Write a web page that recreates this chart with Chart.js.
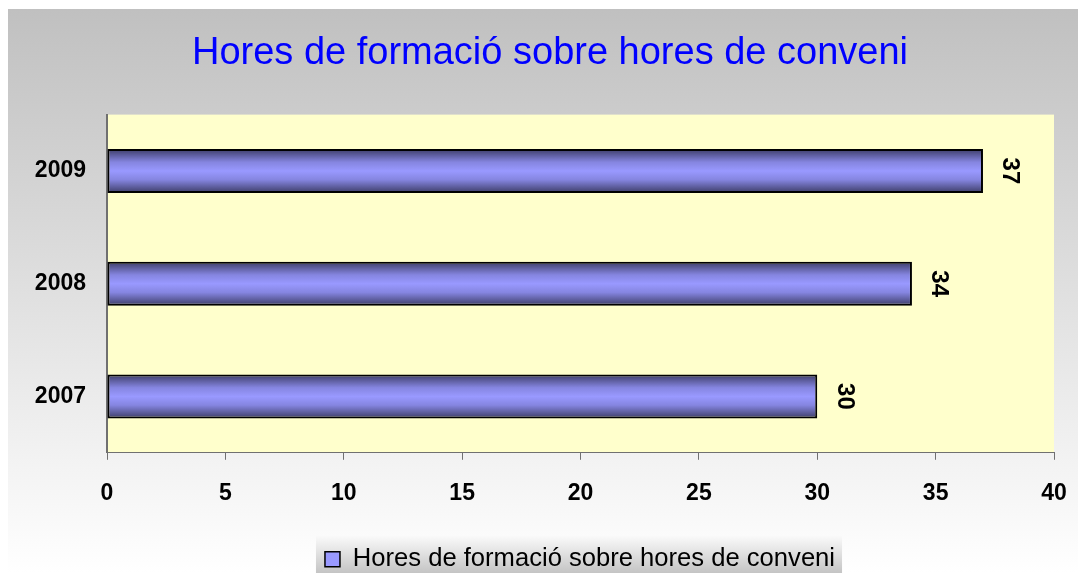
<!DOCTYPE html>
<html>
<head>
<meta charset="utf-8">
<script src="https://cdn.jsdelivr.net/npm/chart.js@4"></script>
<style>
  html, body { margin: 0; padding: 0; background: #fff; }
  #wrap { position: absolute; left: 8px; top: 9px; width: 1070px; height: 564px; }
</style>
</head>
<body>
<div id="wrap"><canvas id="mycanvas" width="1070" height="564"></canvas></div>
<script>
var years = ["2009", "2008", "2007"];
var hores = [37, 34, 30];
var serieName = "Hores de formació sobre hores de conveni";
var titleText = "Hores de formació sobre hores de conveni";

var fontFam = "'Liberation Sans', Arial, sans-serif";

// vertical gradient across the bar thickness (dark edges, light middle)
function barFill(c) {
    var chart = c.chart;
    var ys = chart.scales.y;
    if (!chart.chartArea || !ys) return '#9999ff';
    var yc = ys.getPixelForValue(c.dataIndex);
    var h = (ys.height / years.length) * 0.39;
    var g = chart.ctx.createLinearGradient(0, yc - h / 2, 0, yc + h / 2);
    g.addColorStop(0, '#3c3c66');
    g.addColorStop(0.3, '#8585e0');
    g.addColorStop(0.5, '#9999ff');
    g.addColorStop(0.7, '#8585e0');
    g.addColorStop(1, '#3c3c66');
    return g;
}

var decor = {
    id: 'decor',
    afterLayout: function(chart) {
        // Excel puts title and legend a bit right of centre
        chart.titleBlock.left += 19;
        chart.titleBlock.right += 19;
        chart.legend.left += 49;
        chart.legend.right += 49;
        chart.legend.top += 9;
        chart.legend.bottom += 9;
    },
    beforeDraw: function(chart) {
        var ctx = chart.ctx;
        var g = ctx.createLinearGradient(0, 0, 0, chart.height);
        g.addColorStop(0, '#c0c0c0');
        g.addColorStop(1, '#ffffff');
        ctx.save();
        ctx.fillStyle = g;
        ctx.fillRect(0, 0, chart.width, chart.height);
        var a = chart.chartArea;
        ctx.fillStyle = '#ffffcc';
        ctx.fillRect(a.left, a.top, a.right - a.left, a.bottom - a.top);

        // legend box
        var hb = chart.legend.legendHitBoxes[0];
        if (hb) {
            var lx = hb.left - 9, lw = hb.width + 16;
            var ly = 527, lh = chart.height - ly;
            var lg = ctx.createLinearGradient(0, ly, 0, ly + lh);
            lg.addColorStop(0, '#fafafa');
            lg.addColorStop(1, '#c4c4c4');
            ctx.fillStyle = lg;
            ctx.fillRect(lx, ly, lw, lh);
        }
        ctx.restore();
    },
    afterDatasetsDraw: function(chart) {
        var ctx = chart.ctx;
        var meta = chart.getDatasetMeta(0);
        ctx.save();
        ctx.fillStyle = '#000';
        ctx.font = 'bold 24px ' + fontFam;
        ctx.textAlign = 'center';
        ctx.textBaseline = 'middle';
        meta.data.forEach(function(bar, i) {
            ctx.save();
            ctx.translate(bar.x + 27, bar.y);
            ctx.rotate(Math.PI / 2);
            ctx.fillText(String(hores[i]), 0, 0);
            ctx.restore();
        });
        ctx.restore();
    }
};

var ctx = document.getElementById('mycanvas');

var chartdata = {
    labels: years,
    datasets: [
        {
            label: serieName,
            data: hores,
            backgroundColor: barFill,
            borderColor: '#000000',
            borderWidth: 2,
            borderSkipped: false,
            categoryPercentage: 1,
            barPercentage: 0.39
        }
    ]
};

var HorizBar = new Chart(ctx, {
    type: 'bar',
    data: chartdata,
    plugins: [decor],
    options: {
        indexAxis: 'y',
        responsive: false,
        animation: false,
        layout: { padding: { top: 0, left: 0, right: 24, bottom: 0 } },
        plugins: {
            title: {
                display: true,
                text: titleText,
                color: '#0000ff',
                font: { family: fontFam, size: 38, weight: 'normal' },
                padding: { top: 22, bottom: 38 }
            },
            legend: {
                display: true,
                position: 'bottom',
                labels: {
                    color: '#000',
                    font: { family: fontFam, size: 25.6 },
                    boxWidth: 15,
                    boxHeight: 15,
                    padding: 10,
                    generateLabels: function(chart) {
                        return [{
                            text: serieName,
                            fillStyle: '#9999ff',
                            strokeStyle: '#000',
                            lineWidth: 1.5,
                            datasetIndex: 0
                        }];
                    }
                }
            },
            tooltip: { enabled: false }
        },
        scales: {
            x: {
                min: 0,
                max: 40,
                ticks: {
                    stepSize: 5,
                    color: '#000',
                    padding: 20,
                    font: { family: fontFam, size: 23, weight: 'bold' }
                },
                grid: {
                    drawOnChartArea: false,
                    drawTicks: true,
                    tickLength: 7,
                    color: '#707070'
                },
                border: { display: true, color: '#707070', width: 1 },
                afterFit: function(scale) {
                    scale.paddingLeft = 0;
                    scale.paddingRight = 0;
                }
            },
            y: {
                ticks: {
                    color: '#000',
                    padding: 21,
                    font: { family: fontFam, size: 23, weight: 'bold' }
                },
                grid: { drawOnChartArea: false, drawTicks: false },
                border: { display: true, color: '#707070', width: 2 },
                afterFit: function(scale) { scale.width = 99; }
            }
        }
    }
});
</script>
</body>
</html>
